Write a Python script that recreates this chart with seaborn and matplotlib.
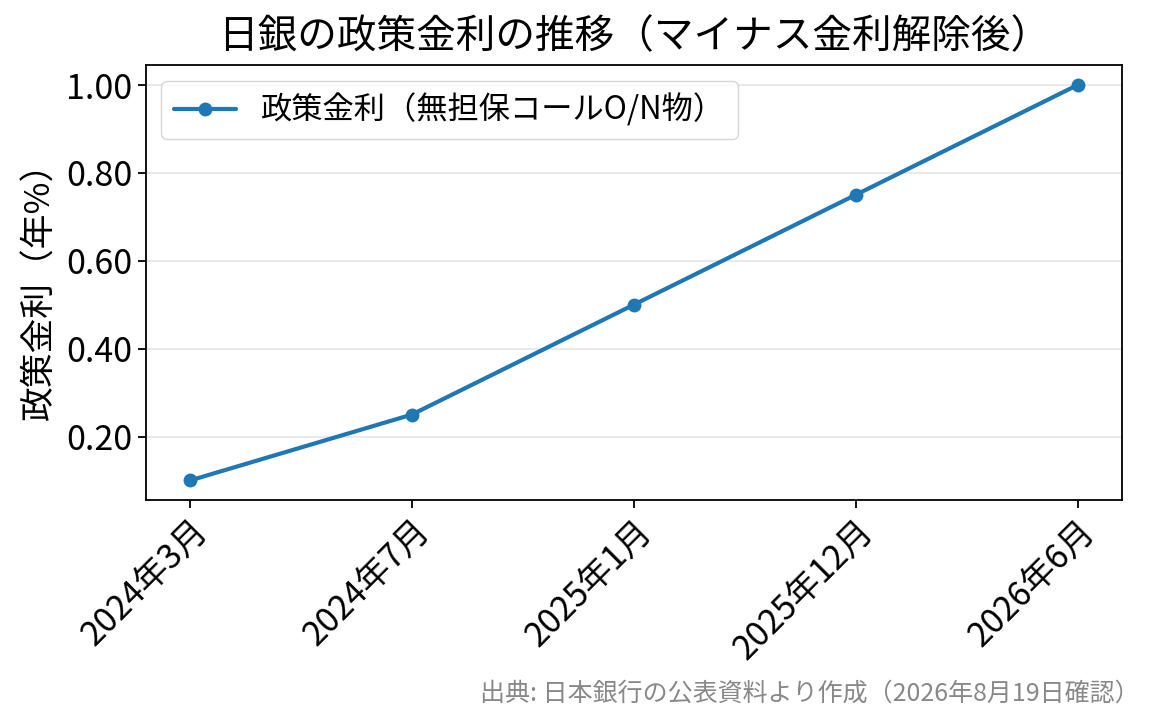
import matplotlib
matplotlib.use("Agg")
import matplotlib.pyplot as plt
import seaborn as sns
import pandas as pd

dates = ["2024年3月", "2024年7月", "2025年1月", "2025年12月", "2026年6月"]
rates = [0.10, 0.25, 0.50, 0.75, 1.00]
series_name = "政策金利（無担保コールO/N物）"
title = "日銀の政策金利の推移（マイナス金利解除後）"
ylabel = "政策金利（年%）"
source = "出典: 日本銀行の公表資料より作成（2026年8月19日確認）"

sns.set_theme(style="ticks")
plt.rcParams['font.family'] = ['Noto Sans CJK JP', 'DejaVu Sans']
plt.rcParams['text.color'] = 'black'
plt.rcParams['axes.labelcolor'] = 'black'
plt.rcParams['xtick.color'] = 'black'
plt.rcParams['ytick.color'] = 'black'

df = pd.DataFrame({"date": dates, "rate": rates})

fig = plt.figure(figsize=(11.65, 7.25), dpi=100)
ax = fig.add_axes([0.125, 0.310, 0.838, 0.600])
sns.lineplot(data=df, x="date", y="rate", marker="o", markersize=10,
             linewidth=3, color="#1f77b4", markeredgewidth=0,
             label=series_name, ax=ax, sort=False)

ax.set_title(title, fontsize=28.5, pad=12, color="black")
ax.set_xlabel("")
ax.set_ylabel(ylabel, fontsize=25, labelpad=6)
ax.tick_params(axis="both", labelsize=24.5, width=1.3, length=6, color="black")
plt.setp(ax.get_xticklabels(), rotation=45, ha="right", rotation_mode="anchor")
ax.yaxis.set_major_formatter(matplotlib.ticker.FormatStrFormatter("%.2f"))
ax.set_yticks([0.2, 0.4, 0.6, 0.8, 1.0])
ax.grid(axis="y", color="#e6e6e6", linewidth=1.2)
ax.set_axisbelow(True)
for s in ax.spines.values():
    s.set_color("black")
    s.set_linewidth(1.3)
leg = ax.legend(loc="upper left", fontsize=22.5, frameon=True)
leg.get_frame().set_edgecolor("#cccccc")

fig.text(0.978, 0.025, source, ha="right", va="bottom", fontsize=18, color="#888888")

fig.savefig("out.png", dpi=100)
